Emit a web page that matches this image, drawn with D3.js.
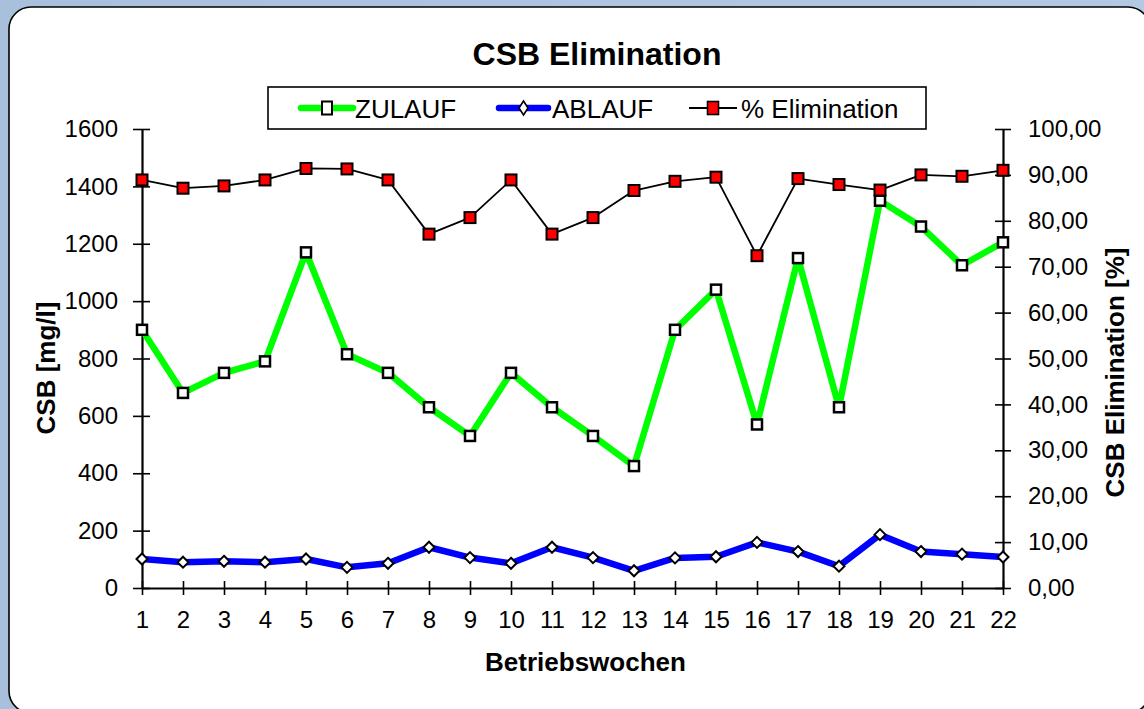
<!DOCTYPE html>
<html>
<head>
<meta charset="utf-8">
<script src="https://cdn.jsdelivr.net/npm/d3@7"></script>
<style>
  html, body { margin: 0; padding: 0; background: #fff; }
  svg { display: block; }
  text { font-family: "Liberation Sans", Arial, sans-serif; fill: #000; }
</style>
</head>
<body>
<svg id="chart" width="1144" height="709"></svg>
<script>
// ---- data ----
const weeks = ["1","2","3","4","5","6","7","8","9","10","11","12","13","14","15","16","17","18","19","20","21","22"];
const zulauf = [900, 680, 750, 790, 1170, 815, 750, 630, 530, 750, 630, 530, 425, 900, 1040, 570, 1150, 630, 1350, 1260, 1125, 1205];
const ablauf = [101, 90, 93, 90, 101, 72, 86, 142, 106, 86, 142, 106, 60, 105, 109, 159, 127, 76, 186, 127, 118, 108];
const elimination = [88.9, 87.1, 87.6, 88.9, 91.4, 91.3, 88.9, 77.1, 80.7, 88.9, 77.1, 80.7, 86.6, 88.6, 89.5, 72.4, 89.2, 87.9, 86.7, 90.0, 89.7, 91.0];
const leftTicks = [0, 200, 400, 600, 800, 1000, 1200, 1400, 1600];
const rightTicks = [0, 10, 20, 30, 40, 50, 60, 70, 80, 90, 100];
const seriesNames = ["ZULAUF", "ABLAUF", "% Elimination"];
const titleText = "CSB Elimination";
const xTitle = "Betriebswochen";
const yLeftTitle = "CSB [mg/l]";
const yRightTitle = "CSB Elimination [%]";

const svg = d3.select("#chart");

// ---- background / frame ----
const defs = svg.append("defs");
const g1 = defs.append("linearGradient").attr("id", "bgGrad").attr("x1", 0).attr("y1", 0).attr("x2", 1).attr("y2", 0);
g1.append("stop").attr("offset", "0%").attr("stop-color", "#a9c0dd");
g1.append("stop").attr("offset", "100%").attr("stop-color", "#b3c8e2");
svg.append("rect").attr("x", 0).attr("y", 0).attr("width", 1144).attr("height", 709).attr("fill", "url(#bgGrad)");
svg.append("rect").attr("x", 9).attr("y", 7).attr("width", 1141).attr("height", 706)
  .attr("rx", 22).attr("ry", 22).attr("fill", "#fff").attr("stroke", "#000").attr("stroke-width", 1.6);

// ---- scales ----
const x = d3.scalePoint().domain(weeks).range([142, 1003]);
const yL = d3.scaleLinear().domain([0, 1600]).range([588, 129]);
const yR = d3.scaleLinear().domain([0, 100]).range([588, 129]);

const deLocale = d3.formatLocale({decimal: ",", thousands: ".", grouping: [3], currency: ["", " €"]});
const fmtR = deLocale.format(".2f");

// ---- axes ----
const axL = svg.append("g").attr("transform", "translate(142,0)")
  .call(d3.axisLeft(yL).tickValues(leftTicks).tickFormat(d3.format("d")).tickSize(0).tickSizeOuter(0).tickPadding(24));
const axR = svg.append("g").attr("transform", "translate(1003,0)")
  .call(d3.axisRight(yR).tickValues(rightTicks).tickFormat(fmtR).tickSize(0).tickSizeOuter(0).tickPadding(25));
const axB = svg.append("g").attr("transform", "translate(0,588)")
  .call(d3.axisBottom(x).tickSize(0).tickSizeOuter(0).tickPadding(23));

[axL, axR, axB].forEach(a => {
  a.select(".domain").attr("stroke", "#000").attr("stroke-width", 2.2);
  a.selectAll("text").style("font-size", "24px").style("font-family", "'Liberation Sans', Arial, sans-serif").attr("fill", "#000");
});
axL.selectAll(".tick line").attr("x1", -9).attr("x2", 8).attr("stroke", "#000").attr("stroke-width", 1.6);
axR.selectAll(".tick line").attr("x1", -8).attr("x2", 8).attr("stroke", "#000").attr("stroke-width", 1.6);
axB.selectAll(".tick line").attr("y1", -7).attr("y2", 7).attr("stroke", "#000").attr("stroke-width", 1.6);

// ---- lines ----
const lineL = d3.line().x((d, i) => x(weeks[i])).y(d => yL(d));
const lineR = d3.line().x((d, i) => x(weeks[i])).y(d => yR(d));

svg.append("path").datum(zulauf).attr("d", lineL).attr("fill", "none")
  .attr("stroke", "#00ff00").attr("stroke-width", 6.5).attr("stroke-linejoin", "round");
svg.append("path").datum(ablauf).attr("d", lineL).attr("fill", "none")
  .attr("stroke", "#0000ff").attr("stroke-width", 6.5).attr("stroke-linejoin", "round");

const sq = 10;
svg.append("g").selectAll("rect").data(zulauf).join("rect")
  .attr("x", (d, i) => x(weeks[i]) - sq / 2).attr("y", d => yL(d) - sq / 2)
  .attr("width", sq).attr("height", sq).attr("fill", "#fff").attr("stroke", "#000").attr("stroke-width", 2.5);

const dm = 5.5;
svg.append("g").selectAll("path").data(ablauf).join("path")
  .attr("d", (d, i) => {
    const cx = x(weeks[i]), cy = yL(d);
    return `M${cx},${cy - dm}L${cx + dm},${cy}L${cx},${cy + dm}L${cx - dm},${cy}Z`;
  })
  .attr("fill", "#fff").attr("stroke", "#000").attr("stroke-width", 2);

svg.append("path").datum(elimination).attr("d", lineR).attr("fill", "none")
  .attr("stroke", "#000").attr("stroke-width", 1.8).attr("stroke-linejoin", "round");
svg.append("g").selectAll("rect").data(elimination).join("rect")
  .attr("x", (d, i) => x(weeks[i]) - 5.5).attr("y", d => yR(d) - 5.5)
  .attr("width", 11).attr("height", 11).attr("fill", "#ff0000").attr("stroke", "#000").attr("stroke-width", 2);

// ---- titles ----
svg.append("text").attr("x", 597).attr("y", 65).attr("text-anchor", "middle")
  .style("font-size", "32px").style("font-weight", "bold").text(titleText);
svg.append("text").attr("x", 585.5).attr("y", 671).attr("text-anchor", "middle")
  .style("font-size", "26px").style("font-weight", "bold").text(xTitle);
svg.append("text").attr("transform", "translate(55,368) rotate(-90)").attr("text-anchor", "middle")
  .style("font-size", "26px").style("font-weight", "bold").text(yLeftTitle);
svg.append("text").attr("transform", "translate(1124,372.5) rotate(-90)").attr("text-anchor", "middle")
  .style("font-size", "26px").style("font-weight", "bold").text(yRightTitle);

// ---- legend ----
const leg = svg.append("g");
leg.append("rect").attr("x", 268).attr("y", 87).attr("width", 658).attr("height", 42)
  .attr("fill", "#fff").attr("stroke", "#000").attr("stroke-width", 1.6);
const legItems = [
  {name: seriesNames[0], x1: 301, x2: 353, tx: 355, color: "#00ff00", w: 6.5, marker: "square"},
  {name: seriesNames[1], x1: 499, x2: 548, tx: 552, color: "#0000ff", w: 6.5, marker: "diamond"},
  {name: seriesNames[2], x1: 689, x2: 737, tx: 741, color: "#000", w: 1.8, marker: "red"}
];
const ly = 108;
legItems.forEach(it => {
  leg.append("line").attr("x1", it.x1).attr("x2", it.x2).attr("y1", ly).attr("y2", ly)
    .attr("stroke", it.color).attr("stroke-width", it.w).attr("stroke-linecap", it.w > 3 ? "round" : "butt");
  const cx = (it.x1 + it.x2) / 2;
  if (it.marker === "square") {
    leg.append("rect").attr("x", cx - 5).attr("y", ly - 6.5).attr("width", 10).attr("height", 13)
      .attr("fill", "#fff").attr("stroke", "#000").attr("stroke-width", 2);
  } else if (it.marker === "diamond") {
    leg.append("path").attr("d", `M${cx},${ly - 7}L${cx + 4.5},${ly}L${cx},${ly + 7}L${cx - 4.5},${ly}Z`)
      .attr("fill", "#fff").attr("stroke", "#000").attr("stroke-width", 1.6);
  } else {
    leg.append("rect").attr("x", cx - 5.5).attr("y", ly - 6.5).attr("width", 11).attr("height", 13)
      .attr("fill", "#ff0000").attr("stroke", "#000").attr("stroke-width", 1.6);
  }
  leg.append("text").attr("x", it.tx).attr("y", 118).style("font-size", "26px").text(it.name);
});
</script>
</body>
</html>
